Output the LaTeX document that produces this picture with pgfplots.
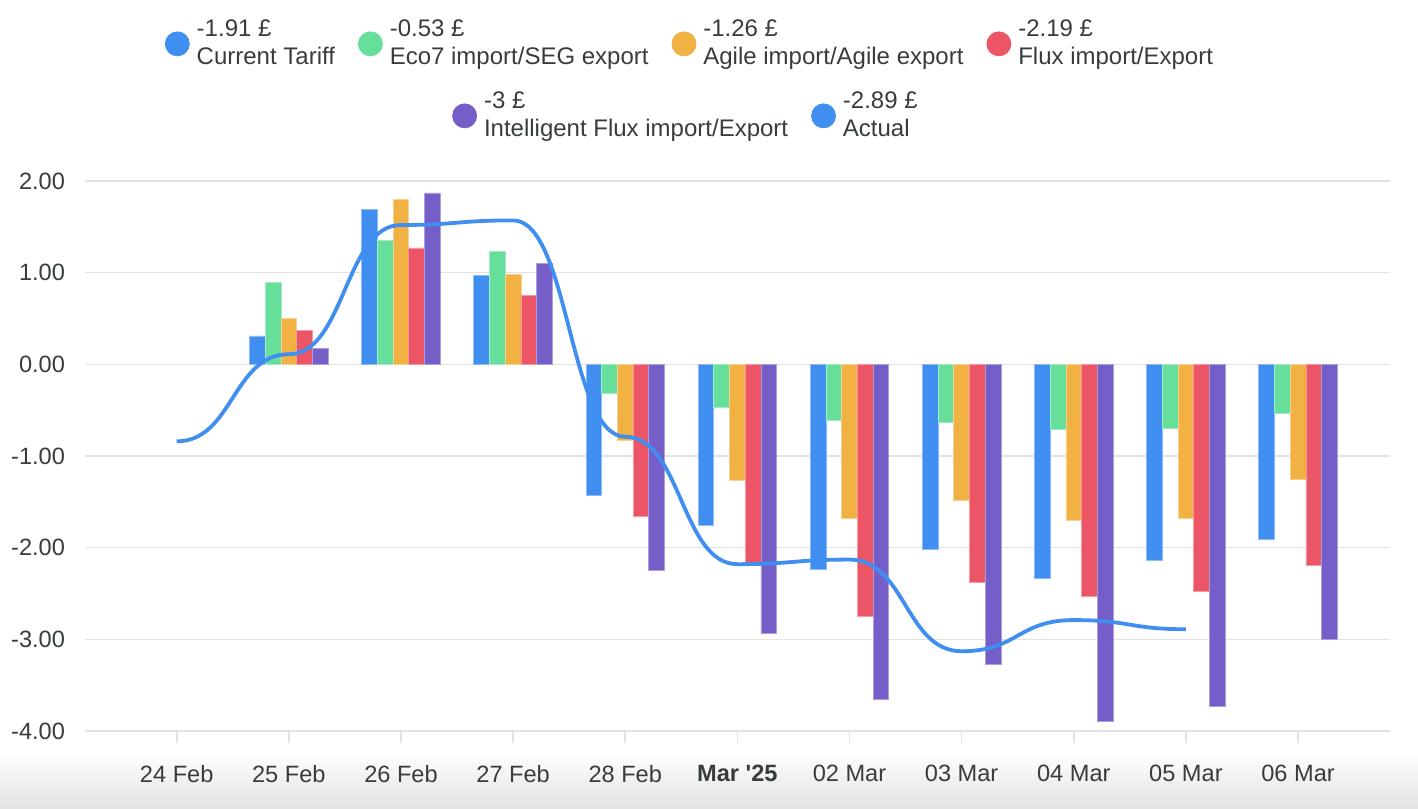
\documentclass[border=0pt]{standalone}
\usepackage{fontspec}
\setmainfont{Liberation Sans}
\usepackage{pgfplots}
\pgfplotsset{compat=1.18}

\definecolor{cBlue}{HTML}{3F8EF0}
\definecolor{cGreen}{HTML}{66DF9B}
\definecolor{cOrange}{HTML}{F2B143}
\definecolor{cRed}{HTML}{EB5565}
\definecolor{cPurple}{HTML}{765EC8}
\definecolor{cText}{HTML}{373D3F}
\definecolor{cGrid}{HTML}{E2E2E2}

% plot handler: cubic segments with horizontal tangents at each data point
\makeatletter
\newif\ifhc@first
\newdimen\hc@px \newdimen\hc@py \newdimen\hc@cx \newdimen\hc@cy
\newdimen\hc@dx \newdimen\hc@ax \newdimen\hc@bx
\def\hc@point#1{%
  \pgf@process{#1}%
  \hc@cx=\pgf@x \hc@cy=\pgf@y
  \ifhc@first
    \pgfpathmoveto{\pgfqpoint{\hc@cx}{\hc@cy}}%
    \global\hc@firstfalse
  \else
    \hc@dx=\hc@cx \advance\hc@dx by -\hc@px \divide\hc@dx by 2
    \hc@ax=\hc@px \advance\hc@ax by \hc@dx
    \hc@bx=\hc@cx \advance\hc@bx by -\hc@dx
    \pgfpathcurveto{\pgfqpoint{\hc@ax}{\hc@py}}{\pgfqpoint{\hc@bx}{\hc@cy}}{\pgfqpoint{\hc@cx}{\hc@cy}}%
  \fi
  \global\hc@px=\hc@cx \global\hc@py=\hc@cy
}
\pgfdeclareplothandler{\pgfplothandlerhcurve}{}{%
  start={\global\hc@firsttrue},
  point macro=\hc@point,
}
\tikzset{hcurve/.code={\let\tikz@plot@handler=\pgfplothandlerhcurve}}
\makeatother

\pgfplotstableread{
x  cur    eco    agile  flux   iflux
1  0.31   0.89   0.50   0.37   0.17
2  1.69   1.35   1.80   1.27   1.87
3  0.97   1.23   0.98   0.75   1.10
4  -1.43  -0.32  -0.83  -1.66  -2.25
5  -1.76  -0.47  -1.27  -2.17  -2.94
6  -2.24  -0.61  -1.68  -2.75  -3.65
7  -2.02  -0.63  -1.48  -2.38  -3.27
8  -2.34  -0.71  -1.70  -2.53  -3.89
9  -2.14  -0.70  -1.68  -2.48  -3.73
10 -1.91  -0.53  -1.26  -2.19  -3.00
}\bars

\pgfplotstableread{
x  actual
0  -0.84
1  0.11
2  1.52
3  1.57
4  -0.79
5  -2.18
6  -2.13
7  -3.13
8  -2.79
9  -2.89
}\actual

\pgfplotsset{
  legtext/.style={
    legend style={draw=none, fill=none, inner sep=0pt, outer sep=0pt,
      column sep=2.5pt,
      /tikz/every even column/.append style={column sep=10.5pt},
      nodes={inner sep=1pt, align=left, text=cText,
        font=\fontsize{12}{14}\selectfont}},
    legend cell align=left,
  },
}

\begin{document}
\begin{tikzpicture}
\path[use as bounding box] (0,0) rectangle (709pt,404pt);
\shade[top color=white, bottom color=black!11] (0,0) rectangle (709pt,28pt);

\begin{axis}[
  at={(42.5pt,38.5pt)}, anchor=south west,
  scale only axis, width=652.5pt, height=275pt,
  xmin=-0.818, xmax=10.82, ymin=-4, ymax=2,
  axis line style={draw=none},
  ymajorgrids, grid style={cGrid, line width=0.8pt},
  xtick={0,...,10},
  xticklabels={24 Feb,25 Feb,26 Feb,27 Feb,28 Feb,\textbf{Mar \textquotesingle25},02 Mar,03 Mar,04 Mar,05 Mar,06 Mar},
  ytick={-4,-3,-2,-1,0,1,2},
  yticklabels={-4.00,-3.00,-2.00,-1.00,0.00,1.00,2.00},
  tick label style={font=\fontsize{11.8}{14}\selectfont, text=cText},
  yticklabel style={xshift=-0.5pt},
  xticklabel style={yshift=-7.5pt},
  tick align=outside,
  xtick pos=bottom,
  xtick style={draw=cGrid, line width=0.8pt},
  ytick style={draw=none},
  major tick length=6pt,
  clip=false,
  legtext,
  legend columns=4,
  legend style={at={(axis description cs:0.4636,1.2964)}, anchor=north},
]
\addlegendimage{legend image code/.code={\fill[cBlue] (6pt,0pt) circle (6pt);}}
\addlegendentry{-1.91 £\\Current Tariff}
\addlegendimage{legend image code/.code={\fill[cGreen] (6pt,0pt) circle (6pt);}}
\addlegendentry{-0.53 £\\Eco7 import/SEG export}
\addlegendimage{legend image code/.code={\fill[cOrange] (6pt,0pt) circle (6pt);}}
\addlegendentry{-1.26 £\\Agile import/Agile export}
\addlegendimage{legend image code/.code={\fill[cRed] (6pt,0pt) circle (6pt);}}
\addlegendentry{-2.19 £\\Flux import/Export}

\addplot[ybar, bar width=7.85pt, bar shift=-15.7pt, fill=cBlue, draw=cBlue!60!white, line width=0.4pt, forget plot] table[x=x, y=cur] {\bars};
\addplot[ybar, bar width=7.85pt, bar shift=-7.85pt, fill=cGreen, draw=cGreen!60!white, line width=0.4pt, forget plot] table[x=x, y=eco] {\bars};
\addplot[ybar, bar width=7.85pt, bar shift=0pt, fill=cOrange, draw=cOrange!60!white, line width=0.4pt, forget plot] table[x=x, y=agile] {\bars};
\addplot[ybar, bar width=7.85pt, bar shift=7.85pt, fill=cRed, draw=cRed!60!white, line width=0.4pt, forget plot] table[x=x, y=flux] {\bars};
\addplot[ybar, bar width=7.85pt, bar shift=15.7pt, fill=cPurple, draw=cPurple!60!white, line width=0.4pt, forget plot] table[x=x, y=iflux] {\bars};

\addplot[hcurve, cBlue, line width=1.9pt, no marks, forget plot] table[x=x, y=actual] {\actual};
\end{axis}

\begin{axis}[
  at={(42.5pt,38.5pt)}, anchor=south west,
  scale only axis, width=652.5pt, height=275pt,
  xmin=-0.818, xmax=10.82, ymin=-4, ymax=2,
  hide axis,
  legtext,
  legend columns=2,
  legend style={at={(axis description cs:0.4605,1.1655)}, anchor=north},
]
\addlegendimage{legend image code/.code={\fill[cPurple] (6pt,0pt) circle (6pt);}}
\addlegendentry{-3 £\\Intelligent Flux import/Export}
\addlegendimage{legend image code/.code={\fill[cBlue] (6pt,0pt) circle (6pt);}}
\addlegendentry{-2.89 £\\Actual}
\end{axis}
\end{tikzpicture}
\end{document}
